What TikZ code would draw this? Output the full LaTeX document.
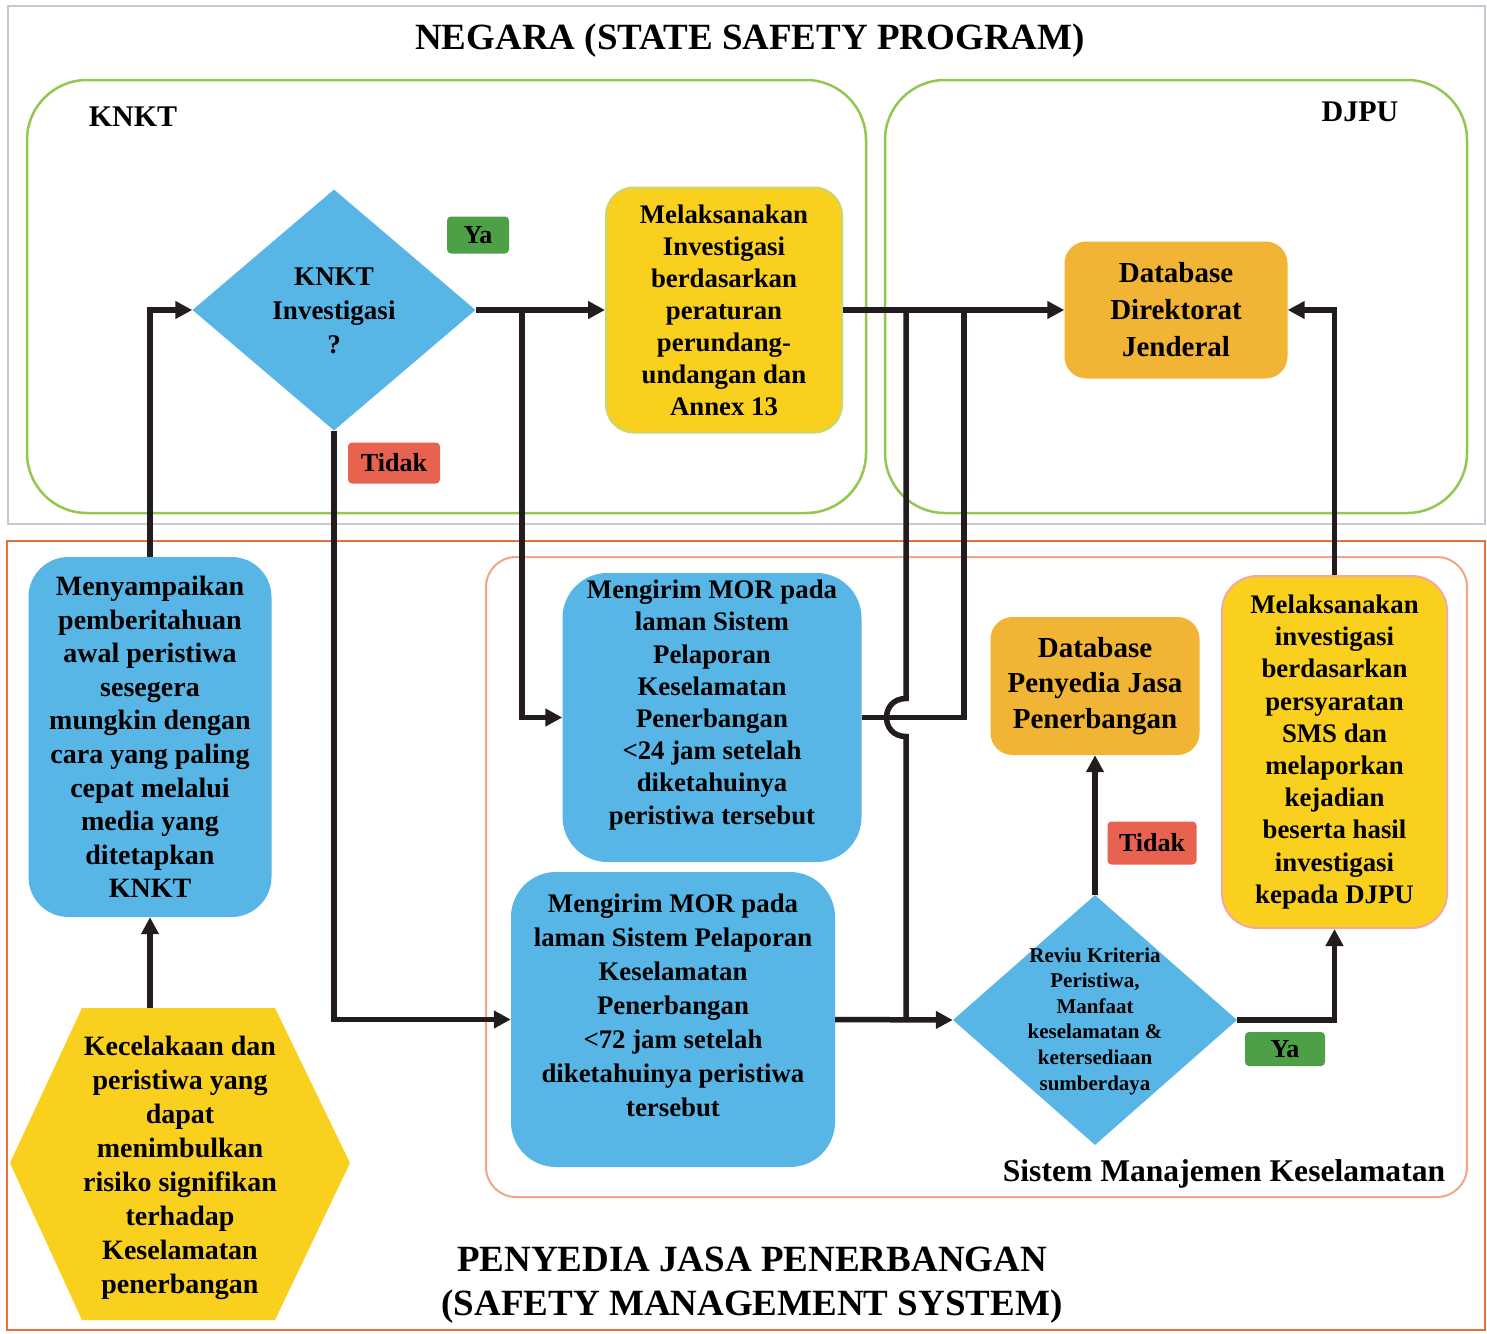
\documentclass[tikz,border=0pt]{standalone}
\usepackage{fontspec}
\setmainfont{Liberation Serif}
\usetikzlibrary{shapes.geometric,arrows.meta}
\definecolor{cblue}{RGB}{88,182,230}
\definecolor{cyel}{RGB}{250,208,30}
\definecolor{corg}{RGB}{241,180,52}
\definecolor{cgreenlab}{RGB}{78,160,70}
\definecolor{credlab}{RGB}{232,98,80}
\definecolor{cgreenbd}{RGB}{146,200,80}
\definecolor{corgbd}{RGB}{232,112,60}
\definecolor{csalmon}{RGB}{242,165,135}
\definecolor{cgrey}{RGB}{200,200,212}
\definecolor{cline}{RGB}{35,28,30}
\definecolor{cyelbd}{RGB}{200,214,110}
\definecolor{cpinkbd}{RGB}{244,168,160}
\newcommand{\fs}[2]{\fontsize{#1}{#2}\selectfont\bfseries}
\tikzset{
  arr/.style={line width=5.5pt, draw=cline, -{Triangle[length=17pt,width=17pt]}},
  ln/.style={line width=5.5pt, draw=cline},
  rbox/.style={rectangle, inner sep=0pt, align=center},
  lab/.style={rectangle, rounded corners=4pt, inner sep=0pt, font=\fs{26}{30}},
  txt/.style={align=center, inner sep=0pt},
}
\begin{document}
\begin{tikzpicture}[x=1pt,y=-1pt]
\useasboundingbox (0,0) rectangle (1487,1333);
\fill[white] (0,0) rectangle (1487,1333);

% region frames
\draw[cgrey, line width=1.5pt] (8,6) rectangle (1485,524);
\draw[cgreenbd, line width=2.5pt, rounded corners=60pt] (27,80) rectangle (866,513);
\draw[cgreenbd, line width=2.5pt, rounded corners=60pt] (885,80) rectangle (1467,513);
\draw[corgbd, line width=2.5pt] (7,541) rectangle (1485,1330);
\draw[csalmon, line width=2pt, rounded corners=30pt] (486,557) rectangle (1467,1197);

% titles
\node[txt, font=\fs{37}{44}] (title) at (750,41) {NEGARA (STATE SAFETY PROGRAM)};
\node[txt, font=\fs{37}{44}] (btitle) at (752,1285) {PENYEDIA JASA PENERBANGAN\\(SAFETY MANAGEMENT SYSTEM)};
\node[txt, font=\fs{30}{36}] (knktlab) at (133,117) {KNKT};
\node[txt, font=\fs{30}{36}] (djpulab) at (1360,112) {DJPU};
\node[txt, font=\fs{31.6}{36}] (smklab) at (1224,1174) {Sistem Manajemen Keselamatan};

% KNKT decision
\node[diamond, fill=cblue, inner sep=0pt, minimum width=283pt, minimum height=241pt] (knktq) at (334,310) {};
\node[txt, font=\fs{27}{34}] (knktqt) at (334,311) {KNKT\\Investigasi\\?};

% yellow KNKT investigation
\node[rbox, fill=cyel, draw=cyelbd, line width=2pt, rounded corners=28pt, minimum width=236pt, minimum height=245pt, font=\fs{26.8}{32}] (melak) at (724,310) {Melaksanakan\\Investigasi\\berdasarkan\\peraturan\\perundang-\\undangan dan\\Annex 13};

% DB Direktorat Jenderal
\node[rbox, fill=corg, rounded corners=22pt, minimum width=223pt, minimum height=137pt, font=\fs{29}{37}] (dbdj) at (1176,310) {Database\\Direktorat\\Jenderal};

% Menyampaikan
\node[rbox, fill=cblue, rounded corners=40pt, minimum width=243pt, minimum height=360pt, font=\fs{28}{33.6}] (meny) at (150,737) {Menyampaikan\\pemberitahuan\\awal peristiwa\\sesegera\\mungkin dengan\\cara yang paling\\cepat melalui\\media yang\\ditetapkan\\KNKT};

% hexagon
\fill[cyel] (10,1163) -- (82,1008) -- (275,1008) -- (350,1163) -- (275,1320) -- (82,1320) -- cycle;
\node[txt, font=\fs{28}{34}] (hex) at (180,1168) {Kecelakaan dan\\peristiwa yang\\dapat\\menimbulkan\\risiko signifikan\\terhadap\\Keselamatan\\penerbangan};
\coordinate (hextop) at (150,1008);

% MOR 24
\node[rbox, fill=cblue, rounded corners=45pt, minimum width=299pt, minimum height=289pt] (mor24) at (712,717.5) {};
\node[txt, font=\fs{26.8}{32.2}] (mor24t) at (712,705) {Mengirim MOR pada\\laman Sistem\\Pelaporan\\Keselamatan\\Penerbangan\\<24 jam setelah\\diketahuinya\\peristiwa tersebut};

% MOR 72
\node[rbox, fill=cblue, rounded corners=45pt, minimum width=324pt, minimum height=295pt] (mor72) at (673,1019.5) {};
\node[txt, font=\fs{26.8}{34}] (mor72t) at (673,1005) {Mengirim MOR pada\\laman Sistem Pelaporan\\Keselamatan\\Penerbangan\\<72 jam setelah\\diketahuinya peristiwa\\tersebut};

% DB Penyedia Jasa
\node[rbox, fill=corg, rounded corners=22pt, minimum width=209pt, minimum height=138pt, font=\fs{29}{35.5}] (dbpjp) at (1095,686) {Database\\Penyedia Jasa\\Penerbangan};

% SMS investigation
\node[rbox, fill=cyel, draw=cpinkbd, line width=2pt, rounded corners=35pt, minimum width=225pt, minimum height=352pt, font=\fs{26.8}{32.2}] (sms) at (1334.5,752) {Melaksanakan\\investigasi\\berdasarkan\\persyaratan\\SMS dan\\melaporkan\\kejadian\\beserta hasil\\investigasi\\kepada DJPU};

% Reviu decision
\node[diamond, fill=cblue, inner sep=0pt, minimum width=284pt, minimum height=250pt] (reviu) at (1095,1020) {};
\node[txt, font=\fs{21}{25.6}] (reviut) at (1095,1021) {Reviu Kriteria\\Peristiwa,\\Manfaat\\keselamatan \&\\ketersediaan\\sumberdaya};

% labels
\node[lab, fill=cgreenlab, minimum width=62pt, minimum height=37pt] (ya1) at (478,235) {Ya};
\node[lab, fill=credlab, minimum width=92pt, minimum height=41pt] (tidak1) at (394,463) {Tidak};
\node[lab, fill=credlab, minimum width=89pt, minimum height=43pt] (tidak2) at (1152,843) {Tidak};
\node[lab, fill=cgreenlab, minimum width=80pt, minimum height=34pt] (ya2) at (1285,1049) {Ya};

% junctions
\coordinate (br1) at (522,310);
\coordinate (jn1) at (906,310);
\coordinate (jn2) at (964,310);
\coordinate (jn3) at (906,1019.5);
\coordinate (hop) at (906,717.5);

% connectors
\draw[arr] (hextop) -- (meny.south);
\draw[arr] (meny.north) |- (knktq.west);
\draw[arr] (knktq.east) -- (melak.west);
\draw[arr] (br1) |- (mor24.west);
\draw[arr] (knktq.south) |- (mor72.west);
\draw[arr] (melak.east) -- (dbdj.west);
\draw[ln] (mor24.east) -| (jn2);
\draw[ln] (jn3) -- ([yshift=-19pt]hop) .. controls ([xshift=-26pt,yshift=-19pt]hop) and ([xshift=-26pt,yshift=19pt]hop) .. ([yshift=19pt]hop) -- (jn1);
\draw[arr] (mor72.east) -- (reviu.west);
\draw[arr] (reviu.north) -- (dbpjp.south);
\draw[arr] (reviu.east) -| (sms.south);
\draw[arr] (sms.north) |- (dbdj.east);
\end{tikzpicture}
\end{document}
